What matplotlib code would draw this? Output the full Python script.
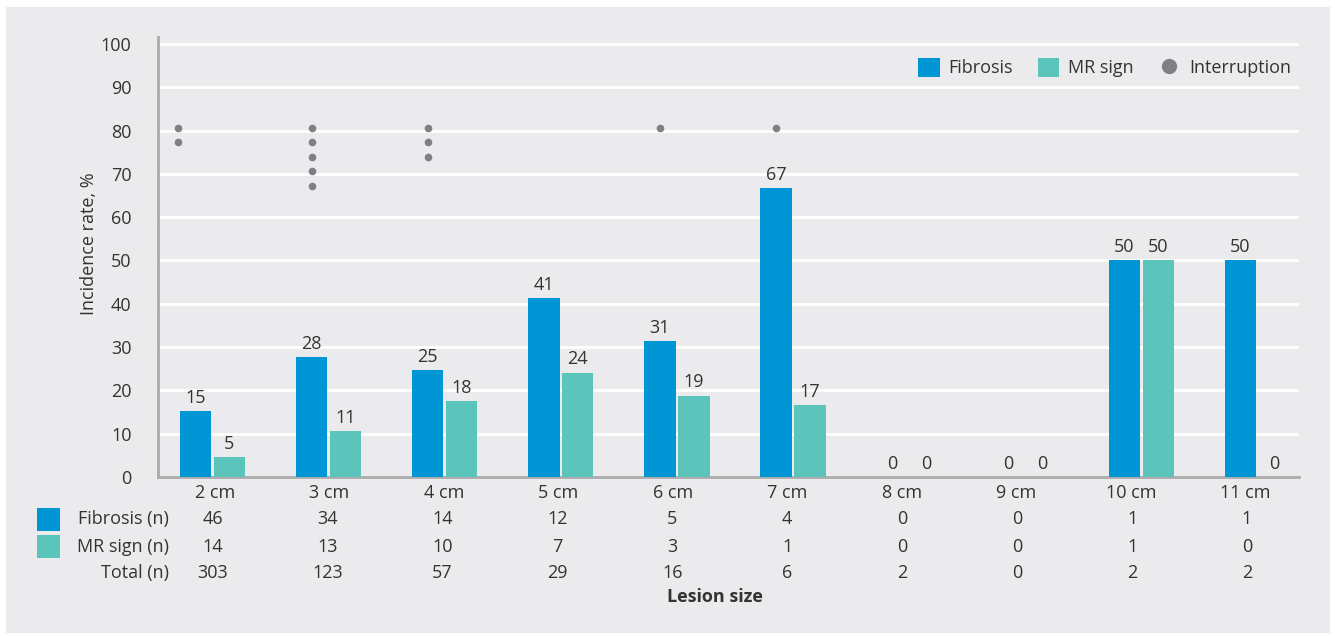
import matplotlib
matplotlib.use('Agg')
import matplotlib.pyplot as plt
import matplotlib.transforms as mtransforms
from matplotlib.patches import Patch, Rectangle
from matplotlib.lines import Line2D
import numpy as np

plt.rcParams['font.family'] = ['Open Sans', 'DejaVu Sans']

# dados
categorias = ['2 cm', '3 cm', '4 cm', '5 cm', '6 cm', '7 cm', '8 cm', '9 cm', '10 cm', '11 cm']
fibrose_pct = [15.2, 27.6, 24.6, 41.4, 31.3, 66.7, 0, 0, 50, 50]
mr_pct = [4.6, 10.6, 17.5, 24.1, 18.8, 16.7, 0, 0, 50, 0]
interrupcao = [2, 5, 3, 0, 1, 1, 0, 0, 0, 0]
fibrose_n = [46, 34, 14, 12, 5, 4, 0, 0, 1, 1]
mr_n = [14, 13, 10, 7, 3, 1, 0, 0, 1, 0]
total_n = [303, 123, 57, 29, 16, 6, 2, 0, 2, 2]

cor_fib = '#0096d6'
cor_mr = '#5cc5bb'
cor_int = '#808084'
cor_fundo = '#ebebed'
cor_texto = '#333333'
fs = 13

fig = plt.figure(figsize=(13.35, 6.36), dpi=100)
fig.patches.append(Rectangle((6 / 1335, 3 / 636), 1324 / 1335, 626 / 636,
                             transform=fig.transFigure, facecolor=cor_fundo,
                             edgecolor='none', zorder=-10))
ax = fig.add_axes([158 / 1335, 1 - 477 / 636, 1141 / 1335, 440 / 636])
ax.set_facecolor('none')

x = np.arange(len(categorias))
w = 0.27
off = 0.146
b1 = ax.bar(x - off, fibrose_pct, w, color=cor_fib, zorder=3)
b2 = ax.bar(x + off, mr_pct, w, color=cor_mr, zorder=3)

for bars, vals in [(b1, fibrose_pct), (b2, mr_pct)]:
    for b, v in zip(bars, vals):
        ax.annotate(f'{v:.0f}', (b.get_x() + b.get_width() / 2, v),
                    xytext=(0, 3), textcoords='offset points',
                    ha='center', va='bottom', fontsize=fs, color=cor_texto)

# pontos de interrupcao
for i, n in enumerate(interrupcao):
    if n > 0:
        ys = 80.7 - 3.35 * np.arange(n)
        xp = x[i] - (0.30 if i == 0 else off)
        ax.plot([xp] * n, ys, 'o', color=cor_int, markersize=5.5,
                zorder=4, markeredgewidth=0)

ax.set_xlim(-0.469, 9.358)
ax.set_ylim(0, 101.6)
ax.set_yticks(range(0, 101, 10))
ax.set_xticks([])
ax.tick_params(axis='y', length=0, pad=19, labelsize=fs, labelcolor=cor_texto)
ax.grid(axis='y', color='white', linewidth=2, zorder=0)
for s in ['top', 'right']:
    ax.spines[s].set_visible(False)
for s in ['left', 'bottom']:
    ax.spines[s].set_color('#ababab')
    ax.spines[s].set_linewidth(2)
ax.set_ylabel('Incidence rate, %', fontsize=fs, color=cor_texto)
ax.yaxis.set_label_coords(-0.053, 0.53)

# tabela abaixo do eixo
trans = mtransforms.blended_transform_factory(ax.transData, ax.transAxes)
for i, c in enumerate(categorias):
    ax.text((57 + 114.5 * i) / 1141, -0.036, c, transform=ax.transAxes,
            ha='center', va='center', fontsize=fs, color=cor_texto)
linhas = [(-0.0955, fibrose_n), (-0.159, mr_n), (-0.218, total_n)]
for yy, vals in linhas:
    for i, v in enumerate(vals):
        ax.text(x[i] - 0.01 * i, yy, str(v), transform=trans, ha='center', va='center',
                fontsize=fs, color=cor_texto, clip_on=False)

rotulos = [(-0.0955, 'Fibrosis (n)', cor_fib), (-0.159, 'MR sign (n)', cor_mr), (-0.218, 'Total (n)', None)]
for yy, txt, cor in rotulos:
    yc = (636 - 477 + yy * 440) / 636
    fig.text(169 / 1335, yc, txt, ha='right', va='center', fontsize=fs, color=cor_texto)
    if cor:
        fig.patches.append(Rectangle((37 / 1335, yc - 11.5 / 636), 23 / 1335, 23 / 636,
                                     transform=fig.transFigure, facecolor=cor,
                                     edgecolor='none'))

ax.text(0.5 - 14 / 1141, -0.273, 'Lesion size', transform=ax.transAxes, ha='center',
        va='center', fontsize=fs, fontweight='bold', color=cor_texto)

# legenda
handles = [Patch(facecolor=cor_fib, label='Fibrosis'),
           Patch(facecolor=cor_mr, label='MR sign'),
           Line2D([], [], marker='o', linestyle='none', color=cor_int,
                  markersize=11, markeredgewidth=0, label='Interruption')]
ax.legend(handles=handles, loc='center right', bbox_to_anchor=(0.993, 0.93),
          ncol=3, frameon=False, fontsize=fs, handlelength=1.2, handleheight=1.2,
          handletextpad=0.5, columnspacing=1.35, borderpad=0, borderaxespad=0,
          labelcolor=cor_texto)

plt.savefig('out.png', dpi=100, facecolor='white')
